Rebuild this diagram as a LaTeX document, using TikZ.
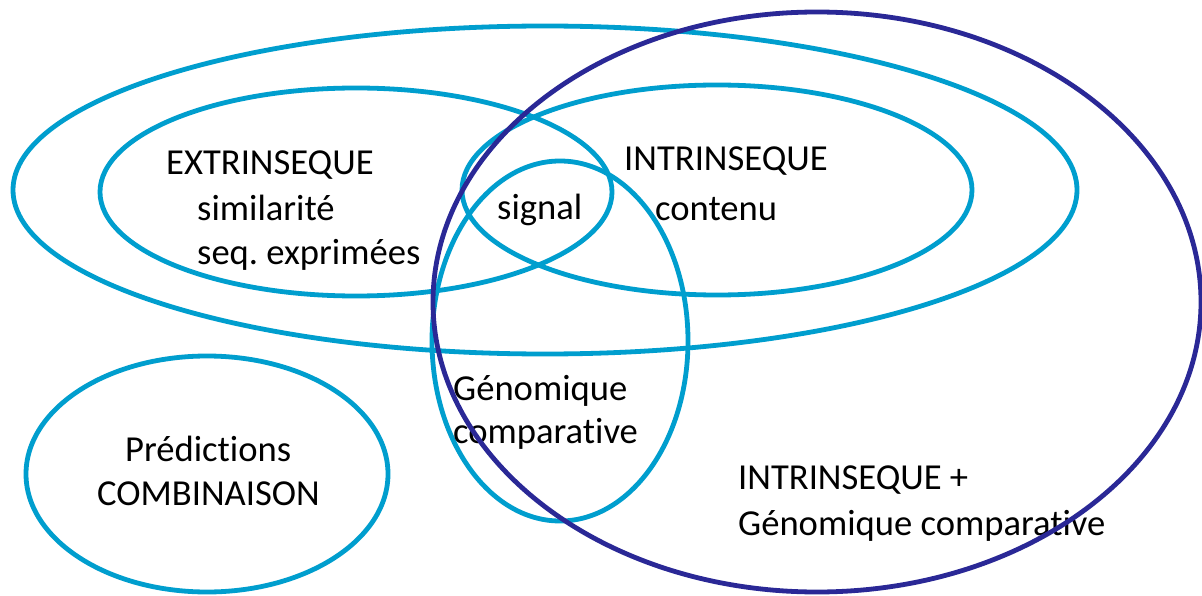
\documentclass[tikz,border=0pt]{standalone}
\usepackage{fontspec}
\setmainfont[Ligatures={NoCommon,NoRare}]{Carlito}
\definecolor{lblue}{RGB}{0,158,206}
\definecolor{dblue}{RGB}{42,40,150}
\frenchspacing
\begin{document}
\begin{tikzpicture}[x=1pt,y=-1pt,
  lring/.style={draw=lblue,line width=4.8pt},
  dring/.style={draw=dblue,line width=4.8pt},
  lbl/.style={anchor=base west,inner sep=0pt,font=\fontsize{36.6}{44}\selectfont}]
\useasboundingbox[fill=white] (0,0) rectangle (1202,596);
% light blue ellipses
\draw[lring] (545,190) ellipse [x radius=532,y radius=164];
\draw[lring] (356,192) ellipse [x radius=256,y radius=104];
\draw[lring] (717,190) ellipse [x radius=255,y radius=105];
\draw[lring] (560,341) ellipse [x radius=128,y radius=180];
\draw[lring] (207,474) ellipse [x radius=181,y radius=118];
% labels
\node[lbl] (ext) at (166,175) {EXTRINSEQUE};
\node[lbl] (sim) at (197,221) {similarité};
\node[lbl] (seq) at (197,265) {seq. exprimées};
\node[lbl] (intr) at (624,171) {INTRINSEQUE};
\node[lbl] (cont) at (655,221) {contenu};
\node[lbl] (sig) at (497,220) {signal};
\node[lbl] (gen) at (453,400) {Génomique};
\node[lbl] (comp) at (453,443) {comparative};
\node[lbl] (ip) at (738,489) {INTRINSEQUE +};
\node[lbl] (gc) at (738,535) {Génomique comparative};
\node[lbl] (pred) at (125,461) {Prédictions};
\node[lbl] (comb) at (97,505) {COMBINAISON};
% dark blue ellipse
\draw[dring] (817,302) ellipse [x radius=384,y radius=290];
\end{tikzpicture}
\end{document}
